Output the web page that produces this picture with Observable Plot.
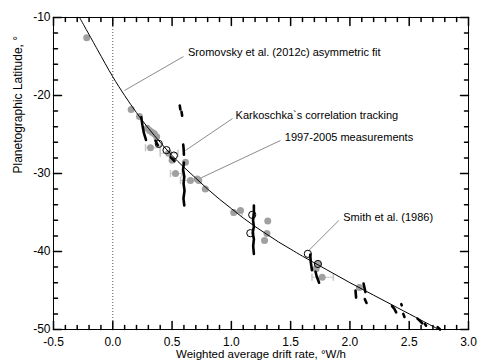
<!DOCTYPE html>
<html><head><meta charset="utf-8">
<script src="https://cdn.jsdelivr.net/npm/d3@7"></script>
<script src="https://cdn.jsdelivr.net/npm/@observablehq/plot@0.6"></script>
<style>body{margin:0;background:#fff}</style>
</head><body><div id="chart"></div>
<script>
// ---- axis ticks ----
const xTicks = [-0.5, 0, 0.5, 1, 1.5, 2, 2.5, 3];
const xTickLabels = ["-0.5", "0.0", "0.5", "1.0", "1.5", "2.0", "2.5", "3.0"];
const xMinor = [-0.4,-0.3,-0.2,-0.1,0.1,0.2,0.3,0.4,0.6,0.7,0.8,0.9,1.1,1.2,1.3,1.4,1.6,1.7,1.8,1.9,2.1,2.2,2.3,2.4,2.6,2.7,2.8,2.9];
const yTicks = [-50, -40, -30, -20, -10];
const yTickLabels = ["-50", "-40", "-30", "-20", "-10"];
const yMinor = [-48,-46,-44,-42,-38,-36,-34,-32,-28,-26,-24,-22,-18,-16,-14,-12];
const xTitle = "Weighted average drift rate, °W/h";
const yTitle = "Planetographic Latitude, °";

// ---- Sromovsky et al. (2012c) asymmetric fit ----
const fitX   = [-0.28, -0.13, 0.0, 0.1, 0.2, 0.3, 0.4, 0.5, 0.6, 0.7, 0.8, 0.9, 1.0, 1.1, 1.2, 1.3, 1.4, 1.5, 1.6, 1.8, 2.0, 2.2, 2.4, 2.6, 2.75];
const fitLat = [-10, -14.1, -17.6, -20.0, -22.2, -24.2, -26.0, -27.7, -29.2, -30.6, -32.0, -33.3, -34.5, -35.7, -36.8, -37.8, -38.8, -39.7, -40.6, -42.3, -44.0, -45.6, -47.2, -48.8, -50.0];

// ---- 1997-2005 measurements (gray) ----
const measX   = [-0.22, 0.155, 0.225, 0.29, 0.31, 0.33, 0.35, 0.37, 0.318, 0.47, 0.50, 0.613, 0.529, 0.655, 0.712, 0.725, 0.78, 1.02, 1.077, 1.307, 1.30, 1.28, 1.715, 1.766, 2.08, 1.73];
const measLat = [-12.6, -21.8, -22.7, -24.2, -24.5, -24.7, -24.9, -25.3, -26.7, -27.4, -28.3, -28.55, -30.0, -30.9, -30.7, -30.9, -32.0, -35.0, -34.75, -36.1, -37.7, -38.6, -42.2, -43.3, -44.6, -41.6];
const measLo  = [null, null, null, null, null, null, null, null, 0.276, 0.40, null, null, 0.487, 0.571, null, null, null, 1.007, null, null, null, null, null, 1.68, null, null];
const measHi  = [null, null, null, null, null, null, null, null, 0.40, 0.55, null, null, 0.585, 0.74, null, null, null, 1.09, null, null, null, null, null, 1.86, null, null];

// ---- Karkoschka's correlation tracking (black traces) ----
const karkTraces = [
  [[0.24,-22.8],[0.25,-23.8],[0.262,-24.8],[0.28,-25.7]],
  [[0.36,-25.8],[0.37,-26.1],[0.38,-26.4]],
  [[0.487,-27.9],[0.50,-28.1],[0.52,-28.4]],
  [[0.565,-21.3],[0.57,-21.8]],
  [[0.58,-22.1],[0.585,-22.6]],
  [[0.594,-26.3],[0.598,-26.9],[0.6,-27.6]],
  [[0.6,-28.6],[0.593,-29.5],[0.603,-30.4],[0.597,-31.3],[0.605,-32.2],[0.596,-33.2],[0.603,-34.1]],
  [[1.19,-34.1],[1.19,-35.0],[1.183,-36.0],[1.19,-36.8],[1.18,-37.6],[1.19,-38.4],[1.184,-39.3],[1.19,-40.3]],
  [[1.665,-40.4],[1.67,-41.4],[1.68,-42.4]],
  [[1.71,-42.6],[1.72,-43.2],[1.74,-44.0]],
  [[2.047,-45.0],[2.052,-45.9]],
  [[2.115,-44.1],[2.122,-44.6],[2.13,-45.2]],
  [[2.125,-46.1],[2.14,-46.6]],
  [[2.355,-47.0],[2.375,-47.35],[2.39,-47.8]],
  [[2.433,-46.75],[2.437,-46.9]],
  [[2.45,-48.0],[2.46,-48.4]],
  [[2.57,-48.6],[2.59,-48.9],[2.61,-49.2]],
  [[2.632,-49.3],[2.642,-49.5]],
  [[2.74,-49.7],[2.76,-50.0]]
];

// ---- Smith et al. (1986) open circles ----
const smithX   = [0.388, 0.453, 0.515, 1.176, 1.16, 1.645, 1.73];
const smithLat = [-26.2, -27.0, -27.7, -35.3, -37.65, -40.3, -41.6];

// ---- annotations ----
const annText = ["Sromovsky et al. (2012c) asymmetric fit", "Karkoschka`s correlation tracking", "1997-2005 measurements", "Smith et al. (1986)"];
const annX    = [0.626, 1.027, 1.442, 1.935];
const annLat  = [-14.5, -22.55, -25.4, -35.6];
const leadX1  = [0.099, 0.613, 0.725, 1.653];
const leadY1  = [-19.36, -27.05, -30.7, -39.87];
const leadX2  = [0.596, 1.01, 1.414, 1.906];
const leadY2  = [-15.0, -22.95, -25.77, -36.03];

// ---- build tables ----
const fit = fitX.map((x, i) => ({x, y: fitLat[i]}));
const meas = measX.map((x, i) => ({x, y: measLat[i], lo: measLo[i], hi: measHi[i]}));
const errs = meas.filter(d => d.lo != null);
const kark = karkTraces.flatMap((t, id) => t.map(([x, y]) => ({x, y, id})));
const smith = smithX.map((x, i) => ({x, y: smithLat[i]}));
const ann = annText.map((text, i) => ({text, x: annX[i], y: annLat[i], x1: leadX1[i], y1: leadY1[i], x2: leadX2[i], y2: leadY2[i]}));

const seg = {draw(context, l) { context.moveTo(0, 0); context.lineTo(0, -l); }};

const chart = Plot.plot({
  width: 485,
  height: 363,
  marginLeft: 53,
  marginRight: 17,
  marginTop: 17,
  marginBottom: 34,
  style: {fontFamily: "'Liberation Sans', Arial, Helvetica, sans-serif", fontSize: "12px", background: "#fff", color: "black"},
  x: {domain: [-0.5, 3.0], label: null},
  y: {domain: [-50, -10], label: null},
  marks: [
    Plot.ruleX([0], {stroke: "#555", strokeDasharray: "1,2", strokeWidth: 1}),
    Plot.link(ann, {x1: "x1", y1: "y1", x2: "x2", y2: "y2", stroke: "#8c8c8c", strokeWidth: 1}),
    Plot.link(errs, {x1: "lo", x2: "hi", y1: "y", y2: "y", stroke: "#c8c8c8", strokeWidth: 1}),
    Plot.vector(errs, {x: "lo", y: "y", length: 6, rotate: 0, anchor: "middle", shape: seg, stroke: "#c8c8c8"}),
    Plot.vector(errs, {x: "hi", y: "y", length: 6, rotate: 0, anchor: "middle", shape: seg, stroke: "#c8c8c8"}),
    Plot.dot(meas, {x: "x", y: "y", r: 3.5, fill: "#a0a0a0", stroke: "none"}),
    Plot.line(fit, {x: "x", y: "y", stroke: "black", strokeWidth: 1, curve: "catmull-rom"}),
    Plot.line(kark, {x: "x", y: "y", z: "id", stroke: "black", strokeWidth: 2.6, strokeLinecap: "round", strokeLinejoin: "round"}),
    Plot.dot(smith, {x: "x", y: "y", r: 3.6, fill: "none", stroke: "black", strokeWidth: 1}),
    Plot.text(ann, {x: "x", y: "y", text: "text", textAnchor: "start", fontSize: 11, dx: 1, fill: "black"}),
    Plot.frame({stroke: "black", strokeWidth: 1}),
    // inward ticks on all four sides
    Plot.vector(xTicks, {x: d => d, y: -50, length: 8, rotate: 0, anchor: "start", shape: seg, stroke: "black"}),
    Plot.vector(xMinor, {x: d => d, y: -50, length: 4, rotate: 0, anchor: "start", shape: seg, stroke: "black"}),
    Plot.vector(xTicks, {x: d => d, y: -10, length: 8, rotate: 180, anchor: "start", shape: seg, stroke: "black"}),
    Plot.vector(xMinor, {x: d => d, y: -10, length: 4, rotate: 180, anchor: "start", shape: seg, stroke: "black"}),
    Plot.vector(yTicks, {x: -0.5, y: d => d, length: 8, rotate: 90, anchor: "start", shape: seg, stroke: "black"}),
    Plot.vector(yMinor, {x: -0.5, y: d => d, length: 4, rotate: 90, anchor: "start", shape: seg, stroke: "black"}),
    Plot.vector(yTicks, {x: 3.0, y: d => d, length: 8, rotate: -90, anchor: "start", shape: seg, stroke: "black"}),
    Plot.vector(yMinor, {x: 3.0, y: d => d, length: 4, rotate: -90, anchor: "start", shape: seg, stroke: "black"}),
    Plot.axisX(xTicks, {tickSize: 0, tickPadding: 8, tickFormat: d => xTickLabels[xTicks.indexOf(d)], label: null, fontSize: 12}),
    Plot.axisY(yTicks, {tickSize: 0, tickPadding: 3, tickFormat: d => yTickLabels[yTicks.indexOf(d)], label: null, fontSize: 12}),
    Plot.text([xTitle], {frameAnchor: "bottom", dy: 28, text: d => d, fontSize: 11.5, fill: "black"}),
    Plot.text([yTitle], {frameAnchor: "left", dx: -35, rotate: -90, text: d => d, fontSize: 12, fill: "black"})
  ]
});
document.getElementById("chart").appendChild(chart);
</script>
</body></html>
